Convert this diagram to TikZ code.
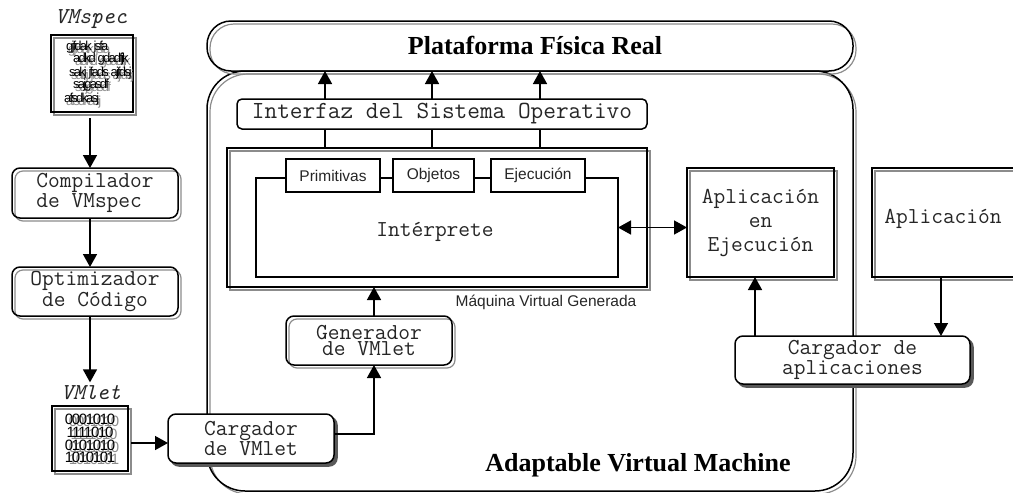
\documentclass[tikz,border=0pt]{standalone}
\usepackage{fontspec}
\setmainfont{Liberation Serif}
\setsansfont{Liberation Sans}
\newfontfamily\apretada[LetterSpace=-14]{Liberation Sans}
\newfontfamily\digitos[LetterSpace=-9]{Liberation Sans}
\usetikzlibrary{arrows.meta,shadows}
\tikzset{
	linea/.style={line width=1.5pt, color=black},
	flecha/.style={linea, -{Triangle[width=14pt,length=13pt]}},
	dobleflecha/.style={linea, {Triangle[width=14pt,length=13pt]}-{Triangle[width=14pt,length=13pt]}},
	caja/.style={draw, linea, inner sep=0pt, outer sep=0pt},
	doble/.style={caja, copy shadow={draw=black!45, fill=none, line width=1.2pt, shadow xshift=3pt, shadow yshift=-3pt}},
	sombra/.style={caja, fill=white, rounded corners=8pt, copy shadow={draw=black!65, fill=black!65, shadow xshift=3pt, shadow yshift=-3pt}},
	mono/.style={font=\ttfamily\fontsize{22.8}{16}\selectfont, align=center, text=black!85},
	monoit/.style={font=\ttfamily\itshape\fontsize{22.8}{16}\selectfont, text=black!85},
	sans/.style={font=\sffamily\fontsize{15.5}{18}\selectfont, text=black!85},
	titulo/.style={font=\bfseries\fontsize{26}{28}\selectfont},
}
\begin{document}
\begin{tikzpicture}[x=1pt, y=-1pt]
		%%%%% MARGINS %%%%%
		\useasboundingbox (0, 0) rectangle (1013, 493);
		
		%%%%% LARGE FRAMES %%%%%
		\node[doble, rounded corners=38pt, minimum width=646, minimum height=420] (avm) at (530, 281) {};
		\node[doble, rounded corners=24pt, minimum width=646, minimum height=50] (plataforma) at (530, 46) {};
		\node[titulo] (tplataforma) at (535, 45) {Plataforma Física Real};
		\node[titulo] (tavm) at (638, 465) {Adaptable Virtual Machine};
		
		%%%%% LEFT COLUMN %%%%%
		\node[monoit] (lvmspec) at (91, 19) {VMspec};
		\node[doble, minimum width=82, minimum height=77] (vmspec) at (92, 73.5) {};
		\foreach \x/\y/\t in {66/47/gjfdak jsfa, 73/59/adkd gdadfjk, 69/73/sakj jfads ajfdsj, 73/85/sajgasdf, 64/99/afsdkasj} {
			\node[anchor=west, inner sep=0pt, text=black!45, font=\apretada\fontsize{13}{13}\selectfont] at (\x+2, \y+3) {\t};
			\node[anchor=west, inner sep=0pt, font=\apretada\fontsize{13}{13}\selectfont] at (\x, \y) {\t};
		}
		\node[doble, rounded corners=8pt, minimum width=166, minimum height=50, mono, align=left] (compilador) at (95, 193) {Compilador\\de VMspec};
		\node[doble, rounded corners=8pt, minimum width=166, minimum height=49, mono] (optimizador) at (95, 291.5) {Optimizador\\de Código};
		\node[monoit] (lvmlet) at (91, 393) {VMlet};
		\node[doble, minimum width=76, minimum height=65] (vmlet) at (90, 438.5) {};
		\foreach \y/\t in {419/0001010, 432/1111010, 445/0101010, 457/1010101} {
			\node[text=black!45, inner sep=0pt, font=\digitos\fontsize{15}{15}\selectfont] at (94, \y+2) {\t};
			\node[inner sep=0pt, font=\digitos\fontsize{15}{15}\selectfont] at (90, \y) {\t};
		}
		\node[sombra, minimum width=166, minimum height=49, mono] (cargvmlet) at (251, 438.5) {Cargador\\de VMlet};
		
		%%%%% VIRTUAL MACHINE %%%%%
		\node[doble, rounded corners=8pt, minimum width=166, minimum height=49, mono] (generador) at (369, 340.5) {Generador\\de VMlet};
		\node[caja, rounded corners=5pt, minimum width=410, minimum height=30, mono, font=\ttfamily\fontsize{24.6}{16}\selectfont] (interfaz) at (442, 114) {Interfaz del Sistema Operativo};
		\node[doble, minimum width=420, minimum height=139] (mvg) at (437, 217.5) {};
		\node[sans] (tmvg) at (546, 302) {Máquina Virtual Generada};
		\node[caja, minimum width=362, minimum height=99] (interprete) at (437, 227.5) {};
		\node[mono] (tinterprete) at (435, 232) {Intérprete};
		\node[caja, fill=white, minimum width=94, minimum height=33, sans] (primitivas) at (333, 175.5) {Primitivas};
		\node[caja, fill=white, minimum width=81, minimum height=33, sans] (objetos) at (433.5, 175.5) {Objetos};
		\node[caja, fill=white, minimum width=94, minimum height=33, sans] (ejecucion) at (538, 175.5) {Ejecución};
		
		%%%%% APPLICATIONS %%%%%
		\node[doble, minimum width=147, minimum height=109, mono] (appejec) at (760.5, 222.5) {Aplicación\\[8pt]en\\[8pt]Ejecución};
		\node[doble, minimum width=168, minimum height=109] (aplicacion) at (956, 222.5) {};
		\node[mono] (taplicacion) at (943, 219) {Aplicación};
		\node[sombra, minimum width=235, minimum height=48, mono] (cargapl) at (852.5, 360) {Cargador de\\aplicaciones};
		
		%%%%% CONNECTORS %%%%%
		\coordinate (ejeizq) at (90, 0);
		\draw[flecha] ([yshift=-6pt]vmspec.south -| ejeizq) -- (compilador.north -| ejeizq);
		\draw[flecha] (compilador.south -| ejeizq) -- (optimizador.north -| ejeizq);
		\draw[flecha] (optimizador.south -| ejeizq) -- (lvmlet.north -| ejeizq);
		\draw[flecha] ([yshift=-4.5pt, xshift=3pt]vmlet.east) -- ([yshift=-4.5pt]vmlet.east -| cargvmlet.west);
		
		\coordinate (ejegen) at (374, 0);
		\draw[flecha] ([yshift=4.5pt]cargvmlet.east) -| (generador.south -| ejegen);
		\draw[flecha] (generador.north -| ejegen) -- (mvg.south -| ejegen);
		
		\foreach \x in {325, 432, 540} {
			\coordinate (eje) at (\x, 0);
			\draw[linea] (mvg.north -| eje) -- (interfaz.south -| eje);
			\draw[flecha] (interfaz.north -| eje) -- (plataforma.south -| eje);
		}
		
		\draw[dobleflecha] (interprete.east) -- (appejec.west |- interprete.east);
		
		\coordinate (ejeapp) at (755, 0);
		\draw[flecha] (cargapl.north -| ejeapp) -- (appejec.south -| ejeapp);
		\coordinate (ejecar) at (941, 0);
		\draw[flecha] (aplicacion.south -| ejecar) -- (cargapl.north -| ejecar);
		
		%%%%% END %%%%%
\end{tikzpicture}
\end{document}
